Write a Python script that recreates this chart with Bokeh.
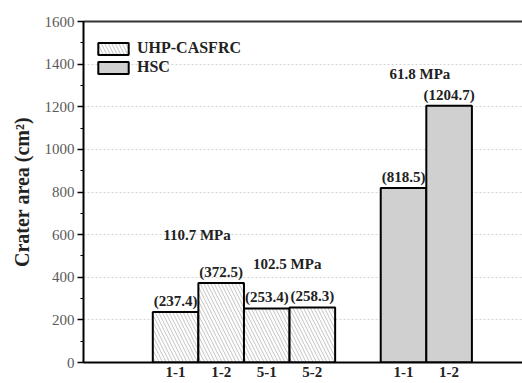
from bokeh.plotting import figure
from bokeh.models import (ColumnDataSource, LinearAxis, FixedTicker, Range1d,
                          Legend, LegendItem, Grid)
from bokeh.core.properties import value
from bokeh.embed import file_html
from bokeh.resources import INLINE

# ---- data ----
uhp_labels = ["1-1", "1-2", "5-1", "5-2"]
uhp_values = [237.4, 372.5, 253.4, 258.3]
hsc_labels = ["1-1", "1-2"]
hsc_values = [818.5, 1204.7]
strength_labels = ["110.7 MPa", "102.5 MPa", "61.8 MPa"]
y_ticks = [0, 200, 400, 600, 800, 1000, 1200, 1400, 1600]

SERIF = "Liberation Serif"
TXT = "#222222"

# layout positions (computed, not data)
uhp_x = [i + 1 for i in range(len(uhp_labels))]
hsc_x = [len(uhp_labels) + 2 + i for i in range(len(hsc_labels))]

p = figure(width=522, height=383, output_backend="svg", toolbar_location=None,
           x_range=Range1d(-1.02, 8.61), y_range=Range1d(0, 1600),
           min_border_left=83, min_border_right=0, min_border_top=21,
           min_border_bottom=21, x_axis_type=None, y_axis_type=None)
p.outline_line_color = None
p.background_fill_color = "white"
p.border_fill_color = "white"

uhp_src = ColumnDataSource(dict(x=uhp_x, top=uhp_values,
                                lab=["(%.1f)" % v for v in uhp_values]))
hsc_src = ColumnDataSource(dict(x=hsc_x, top=hsc_values,
                                lab=["(%.1f)" % v for v in hsc_values]))

# grid
p.add_layout(Grid(dimension=1, ticker=FixedTicker(ticks=y_ticks[1:-1]),
                  grid_line_color="#d4d4d4", grid_line_dash="2 2",
                  grid_line_width=1), "center")

r_uhp = p.vbar(x="x", top="top", width=1.0, source=uhp_src,
               fill_color="white", line_color="black", line_width=2,
               hatch_pattern="left_diagonal_line", hatch_color="#b4b4b4",
               hatch_scale=7, hatch_weight=0.8)
r_hsc = p.vbar(x="x", top="top", width=1.0, source=hsc_src,
               fill_color="#d0d0d0", line_color="black", line_width=2)

for src in (uhp_src, hsc_src):
    p.text(x="x", y="top", text="lab", source=src, text_align="center",
           text_baseline="bottom", y_offset=-3, text_font=value(SERIF),
           text_font_style="bold", text_font_size="15px", text_color=TXT)

# strength annotations above each specimen pair
strength_src = ColumnDataSource(dict(
    x=[(uhp_x[0] + uhp_x[1]) / 2 - 0.03, (uhp_x[2] + uhp_x[3]) / 2 - 0.05,
       (hsc_x[0] + hsc_x[1]) / 2 - 0.14],
    y=[600, 460, 1356],
    t=strength_labels))
p.text(x="x", y="y", text="t", source=strength_src, text_align="center",
       text_baseline="middle", text_font=value(SERIF), text_font_style="bold",
       text_font_size="15px", text_color=TXT)

# y axis
yax = LinearAxis(ticker=FixedTicker(ticks=y_ticks,
                                    minor_ticks=list(range(0, 1601, 100))))
yax.axis_line_width = 2
yax.axis_line_color = "black"
yax.major_tick_line_width = 1.5
yax.major_tick_out = 6
yax.major_tick_in = 0
yax.minor_tick_out = 3
yax.minor_tick_in = 0
yax.minor_tick_line_width = 1.2
yax.major_label_text_font = SERIF
yax.major_label_text_font_size = "15px"
yax.major_label_text_color = "#5a5a5a"
yax.major_label_standoff = 3
yax.axis_label = "Crater area (cm²)"
yax.axis_label_text_font = SERIF
yax.axis_label_text_font_style = "bold"
yax.axis_label_text_font_size = "20px"
yax.axis_label_text_color = TXT
yax.axis_label_standoff = 9
p.add_layout(yax, "left")

# x axis
xax = LinearAxis(ticker=FixedTicker(ticks=uhp_x + hsc_x, minor_ticks=[]))
xax.major_label_overrides = {x: l for x, l in zip(uhp_x + hsc_x, uhp_labels + hsc_labels)}
xax.axis_line_width = 2
xax.axis_line_color = "black"
xax.major_tick_out = 0
xax.major_tick_in = 0
xax.major_label_text_font = SERIF
xax.major_label_text_font_style = "bold"
xax.major_label_text_font_size = "15px"
xax.major_label_text_color = TXT
xax.major_label_standoff = 4
p.add_layout(xax, "below")

# top border line
top = LinearAxis(ticker=FixedTicker(ticks=[]))
top.axis_line_width = 2
top.axis_line_color = "#333333"
top.major_tick_out = 0
top.major_tick_in = 0
top.minor_tick_out = 0
top.major_label_text_font_size = "0px"
p.add_layout(top, "above")

legend = Legend(items=[LegendItem(label="UHP-CASFRC", renderers=[r_uhp]),
                       LegendItem(label="HSC", renderers=[r_hsc])],
                location=(11, 286), margin=0, padding=0,
                border_line_color=None, background_fill_alpha=0,
                glyph_width=38, glyph_height=15, label_height=15,
                spacing=1, label_standoff=5,
                label_text_font=SERIF, label_text_font_style="bold",
                label_text_font_size="16px", label_text_color=TXT)
p.add_layout(legend, "center")

open("out.html", "w").write(file_html(p, INLINE))
